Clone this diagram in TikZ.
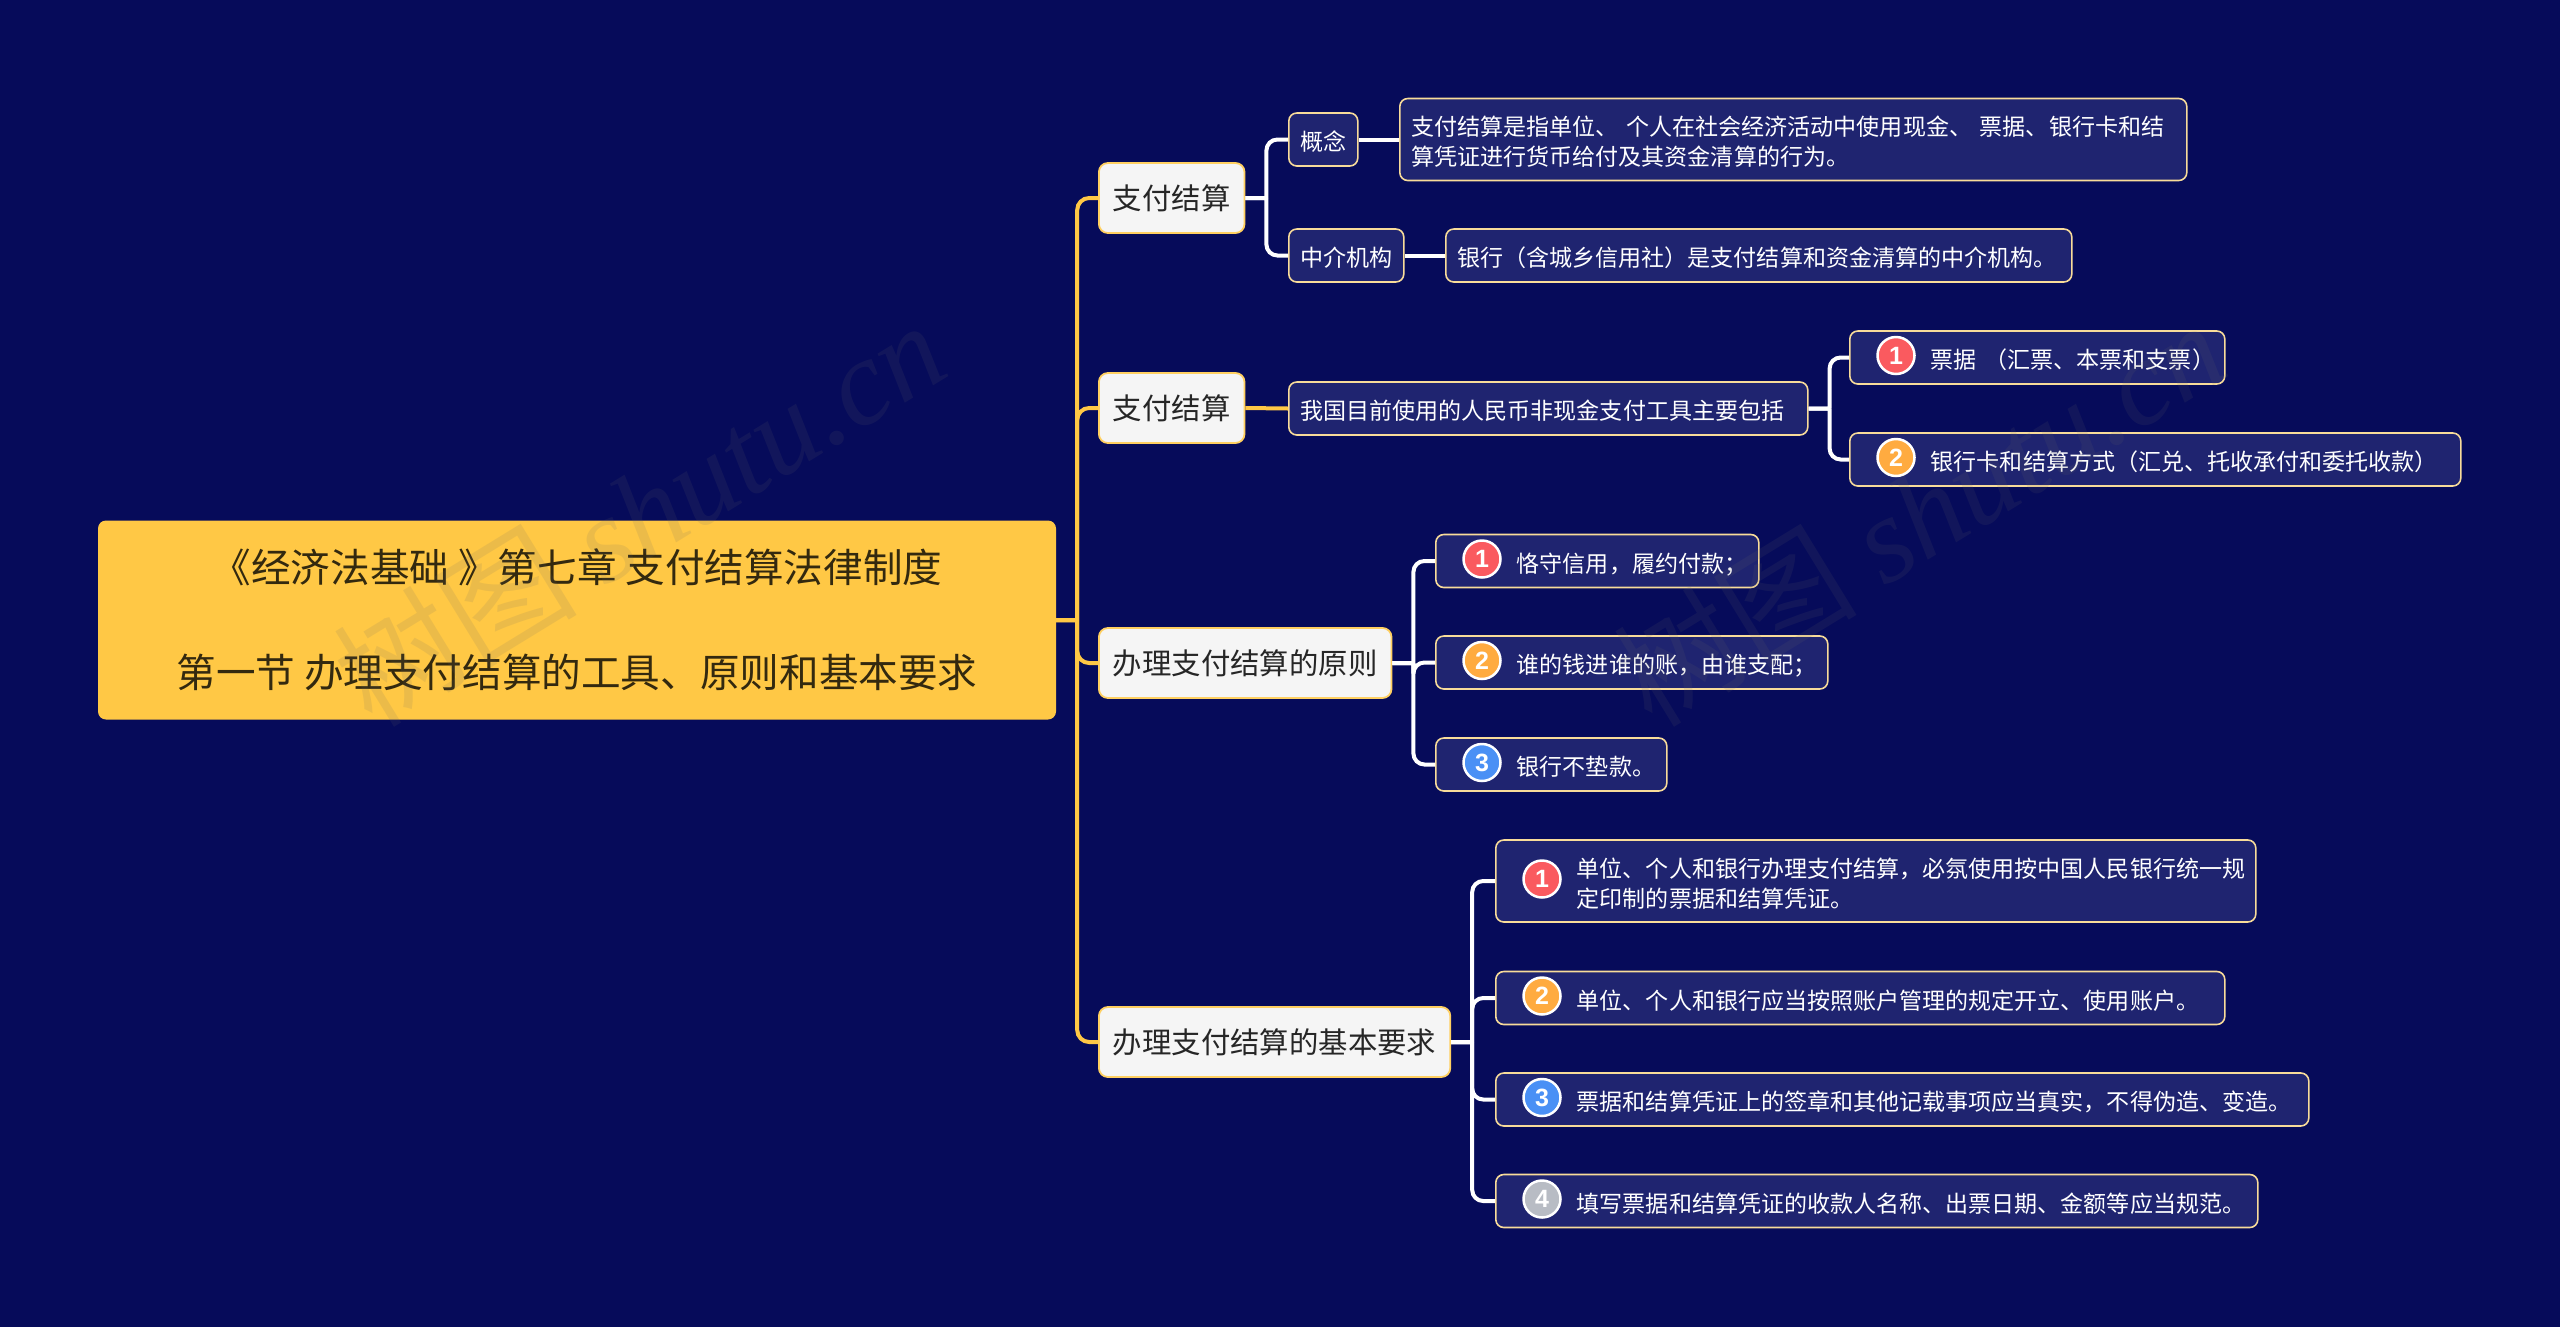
\documentclass[tikz,border=0pt]{standalone}
\usepackage{fontspec}
\setmainfont{Noto Sans CJK SC}
\newfontfamily\digitfont{Liberation Sans}
\newfontfamily\markfont{Liberation Serif}
\definecolor{navybg}{HTML}{060B5A}
\definecolor{leaffill}{HTML}{1F2470}
\definecolor{cream}{HTML}{F8DC9A}
\definecolor{gold}{HTML}{FFC845}
\definecolor{paper}{HTML}{F5F5F5}
\definecolor{inkroot}{HTML}{33290F}
\definecolor{inktopic}{HTML}{262626}
\definecolor{bred}{HTML}{FA5A5F}
\definecolor{borange}{HTML}{FFAB40}
\definecolor{bblue}{HTML}{4A90F5}
\definecolor{bgrey}{HTML}{B8BCC4}
\newcommand{\skipbadge}{\hspace*{69.5pt}}
\begin{document}
\begin{tikzpicture}[x=1pt,y=-1pt,
  rootbox/.style={fill=gold, rounded corners=8pt, minimum width=958pt, minimum height=199pt, align=center, text=inkroot, font=\fontsize{39.6}{52.5}\selectfont},
  topic/.style={draw=gold!85!white, line width=1.8pt, fill=paper, rounded corners=9pt, anchor=west, minimum height=70pt, inner xsep=14pt, text=inktopic, font=\fontsize{29.4}{36}\selectfont},
  leaf/.style={draw=cream, line width=1.6pt, fill=leaffill, rounded corners=8pt, anchor=west, minimum height=53pt, inner xsep=11.5pt, text=white, align=left, text height=22pt, text depth=0pt, font=\fontsize{23.05}{30}\selectfont},
  twolines/.style={minimum height=82pt, text depth=30pt},
  badge/.style={circle, draw=white, line width=2.5pt, inner sep=0pt, minimum size=37pt, text=white, font=\digitfont\bfseries\fontsize{25}{25}\selectfont},
  wire/.style={draw=white, line width=4pt, rounded corners=11pt},
  goldwire/.style={draw=gold, line width=4pt, rounded corners=12pt},
  stamp/.style={text=black!60, opacity=0.13, rotate=31.5, font=\fontsize{122}{122}\selectfont}]
\useasboundingbox (0,0) rectangle (2560,1326);
\fill[navybg] (-3,-3) rectangle (2563,1329);
% centre and first level
\node[rootbox] (root) at (577,620) {《经济法基础 》第七章 支付结算法律制度\\[52.5pt]第一节 办理支付结算的工具、原则和基本要求};
\node[topic] (pay) at (1098,198) {支付结算};
\node[topic] (tools) at (1098,408) {支付结算};
\node[topic] (rules) at (1098,663) {办理支付结算的原则};
\node[topic] (needs) at (1098,1042) {办理支付结算的基本要求};
% second level
\node[leaf, text width=46pt] (concept) at (1288,139.5) {概念};
\node[leaf, twolines, text width=764pt] (define) at (1399,139.5) {支付结算是指单位、 个人在社会经济活动中使用现金、 票据、银行卡和结\\算凭证进行货币给付及其资金清算的行为。};
\node[leaf, text width=92pt] (agency) at (1288,255.5) {中介机构};
\node[leaf, text width=603pt] (bank) at (1445,255.5) {银行（含城乡信用社）是支付结算和资金清算的中介机构。};
\node[leaf, text width=496pt] (cash) at (1288,408.5) {我国目前使用的人民币非现金支付工具主要包括};
\node[leaf, text width=352pt] (draft) at (1849,357.5) {\skipbadge 票据~（汇票、本票和支票）};
\node[leaf, text width=588pt] (card) at (1849,459.5) {\skipbadge 银行卡和结算方式（汇兑、托收承付和委托收款）};
\node[leaf, text width=300pt] (faith) at (1435,561) {\skipbadge 恪守信用，履约付款；};
\node[leaf, text width=369pt] (whose) at (1435,662.5) {\skipbadge 谁的钱进谁的账，由谁支配；};
\node[leaf, text width=208pt] (noadv) at (1435,764.5) {\skipbadge 银行不垫款。};
\node[leaf, twolines, text width=737pt] (unify) at (1495,881) {\skipbadge 单位、个人和银行办理支付结算，必氛使用按中国人民银行统一规\\\skipbadge 定印制的票据和结算凭证。};
\node[leaf, text width=706pt] (account) at (1495,998) {\skipbadge 单位、个人和银行应当按照账户管理的规定开立、使用账户。};
\node[leaf, text width=790pt] (sign) at (1495,1099.5) {\skipbadge 票据和结算凭证上的签章和其他记载事项应当真实，不得伪造、变造。};
\node[leaf, text width=739pt] (fill) at (1495,1201) {\skipbadge 填写票据和结算凭证的收款人名称、出票日期、金额等应当规范。};
\foreach \n/\i/\col in {draft/1/bred,card/2/borange,faith/1/bred,whose/2/borange,noadv/3/bblue,unify/1/bred,account/2/borange,sign/3/bblue,fill/4/bgrey}
  \node[badge, fill=\col] (b\n) at ([xshift=47pt,yshift=2pt]\n.west) {\i};
% connectors
\foreach \t in {pay,tools,rules,needs}
  \draw[goldwire] (root.east) -- ++(22,0) (root.east) ++(21,0) |- (\t.west);
\draw[goldwire] (tools.east) -- (cash.west);
\foreach \a/\b in {pay/concept,pay/agency,cash/draft,cash/card,rules/faith,rules/whose,rules/noadv,needs/unify,needs/account,needs/sign,needs/fill}
  \draw[wire] (\a.east) -- ++(22,0) (\a.east) ++(21,0) |- (\b.west);
\draw[wire] (concept.east) -- (define.west);
\draw[wire] (agency.east) -- (bank.west);
% watermark
\node[stamp] (stamp1) at (639,512) {树图 {\markfont\itshape shutu.cn}};
\node[stamp] (stamp2) at (1919,512) {树图 {\markfont\itshape shutu.cn}};
\end{tikzpicture}
\end{document}
